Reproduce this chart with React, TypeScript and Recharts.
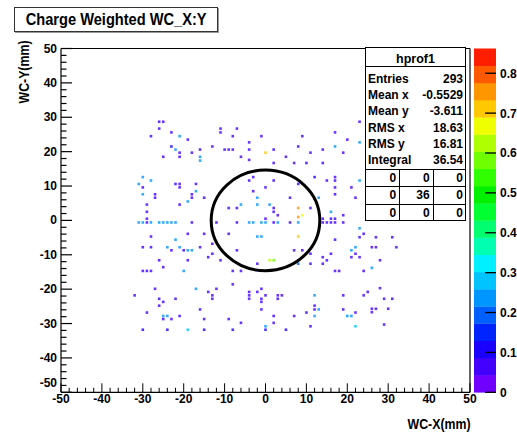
import React from 'react';
import { ScatterChart, Scatter, XAxis, YAxis, ReferenceDot } from 'recharts';

// hits: [x (mm), y (mm), charge weight]
const hits: [number, number, number][] = [
  [-26, 28.7, 0.06], [-25, 28.7, 0.06], [-26, 26.7, 0.06], [-28, 24.5, 0.06], [-23, 25.6, 0.06],
  [-21, 24.5, 0.23], [-19, 23.5, 0.06], [-23, 21.5, 0.12], [-22, 20.6, 0.23], [-21, 19.7, 0.06],
  [-21, 18.5, 0.06], [-25, 18.5, 0.06], [-18, 19.7, 0.06], [-16, 20.6, 0.06], [-16, 18.5, 0.23],
  [-16, 17.4, 0.23], [-13, 21.5, 0.06], [-11, 26.7, 0.06], [-11, 25.6, 0.06], [-7, 26.7, 0.06],
  [-8, 24.5, 0.06], [-10, 20.6, 0.06], [-9, 20.6, 0.06], [-8, 20.6, 0.06], [-6, 18.5, 0.06],
  [-4, 22.7, 0.06], [-4, 20.6, 0.06], [-4, 17.6, 0.06], [-1, 24.5, 0.06], [0, 19.7, 0.72],
  [2, 20.6, 0.06], [2, 16.7, 0.06], [5, 18.5, 0.06], [7, 16.7, 0.06], [10, 16.7, 0.06],
  [8, 21.5, 0.06], [9, 24.5, 0.06], [11, 19.7, 0.06], [14, 20.6, 0.06], [14, 16.7, 0.06],
  [17, 25.6, 0.06], [17, 21.5, 0.23], [19, 19.7, 0.06], [20, 23.5, 0.06], [23, 28.7, 0.06],
  [23, 22.7, 0.23],
  [-30, 12.6, 0.23], [-31, 10.6, 0.23], [-30, 9.6, 0.06], [-30, 7.6, 0.23], [-28, 11.6, 0.23],
  [-29, 4.6, 0.06], [-29, 2.5, 0.06], [-29, 0.5, 0.06], [-27, 7.6, 0.06], [-27, 6.6, 0.06],
  [-22, 10.6, 0.06], [-21, 10.6, 0.06], [-21, 9.6, 0.06], [-21, 4.6, 0.06], [-19, 5.5, 0.23],
  [-18, 7.6, 0.06], [-18, 6.6, 0.06], [-17, 10.6, 0.06], [-17, 8.5, 0.23], [-15, 6.6, 0.06],
  [-4, 11.6, 0.06], [-3, 12.6, 0.06], [-3, 8.5, 0.06], [0, 9.6, 0.06], [2, 11.6, 0.06],
  [-2, 6.6, 0.23], [-2, 4.6, 0.23], [1, 4.6, 0.23], [2, 3.6, 0.06], [2, 2.5, 0.06],
  [6, 6.6, 0.06], [8, 10.6, 0.06], [8, 3.6, 0.76], [9, 1.5, 0.66], [13, 6.6, 0.23],
  [11, 3.6, 0.06], [12, 12.6, 0.12], [15, 11.6, 0.06], [17, 12.6, 0.06], [17, 11.6, 0.06],
  [17, 7.6, 0.06], [17, 9.6, 0.06], [16, 2.5, 0.23], [19, 1.5, 0.06], [21, 9.6, 0.06],
  [22, 6.6, 0.06], [23, 11.6, 0.23], [-9, 3.6, 0.06], [-7, 3.6, 0.06], [-6, 4.6, 0.23],
  [8, 1.0, 0.74], [0, 0.5, 0.06], [3, 1.5, 0.06], [14, 0.5, 0.06], [16, 0.5, 0.06], [17, 0.5, 0.06],
  [-31, -0.6, 0.23], [-30, -0.6, 0.23], [-29, -0.6, 0.06], [-28, -0.6, 0.23], [-26, -0.6, 0.23],
  [-25, -0.6, 0.23], [-24, -0.6, 0.23], [-23, -0.6, 0.23], [-22, -0.6, 0.23], [-18, -0.6, 0.06],
  [-12, -0.6, 0.06], [-7, -0.6, 0.06], [-4, -0.6, 0.23], [-3, -0.6, 0.23], [-1, -0.6, 0.23],
  [0, -0.6, 0.23], [2, -0.6, 0.06], [3, -0.6, 0.23], [6, -0.6, 0.06], [8, -0.6, 0.23],
  [14, -0.6, 0.06], [15, -0.6, 0.06], [16, -0.6, 0.06], [17, -0.6, 0.06], [19, -0.6, 0.06],
  [23, -2.3, 0.23],
  [-28, -4.7, 0.06], [-19, -3.9, 0.06], [-15, -3.9, 0.06], [-9, -3.9, 0.06], [-2, -4.7, 0.23],
  [-1, -4.7, 0.23], [8, -4.7, 0.72], [17, -5.6, 0.06], [-22, -5.6, 0.23], [-13, -6.8, 0.06],
  [-30, -7.8, 0.06], [-28, -7.8, 0.06], [-24, -7.8, 0.23], [-23, -8.7, 0.06], [-21, -7.8, 0.23],
  [-20, -8.7, 0.06], [-19, -8.7, 0.23], [-18, -8.7, 0.23], [-16, -7.8, 0.06], [-7, -8.7, 0.06],
  [-14, -10.7, 0.06], [-13, -9.7, 0.06], [-11, -11.6, 0.06], [1, -11.6, 0.62], [2, -11.6, 0.6],
  [7, -8.7, 0.06], [9, -8.7, 0.06], [11, -9.7, 0.06], [14, -10.7, 0.06], [15, -11.6, 0.06],
  [16, -9.7, 0.06], [21, -8.7, 0.23], [22, -7.8, 0.23], [21, -10.7, 0.06], [22, -9.7, 0.06],
  [-26, -11.6, 0.06], [-19, -11.6, 0.06], [-2, -12.6, 0.06], [8, -12.6, 0.2], [11, -12.6, 0.06],
  [14, -12.6, 0.06], [-30, -14.7, 0.06], [-29, -14.7, 0.06], [-28, -14.7, 0.06], [-25, -13.6, 0.06],
  [-20, -14.7, 0.23], [-8, -14.7, 0.06], [-6, -14.7, 0.06], [-8, -18.6, 0.06], [17, -14.7, 0.06],
  [18, -14.7, 0.06], [23, -4.9, 0.06], [27, -4.9, 0.06], [31, -4.9, 0.06], [24, -3.9, 0.06],
  [26, -7.8, 0.06], [27, -7.8, 0.06], [32, -7.8, 0.06], [23, -10.7, 0.06], [28, -11.6, 0.06],
  [26, -13.8, 0.23], [24, -14.7, 0.06],
  [-27, -19.9, 0.06], [-32, -21.8, 0.06], [-26, -22.8, 0.06], [-25, -23.7, 0.06], [-26, -24.8, 0.06],
  [-22, -22.8, 0.06], [-17, -19.9, 0.23], [-14, -20.8, 0.06], [-13, -21.8, 0.06], [-13, -22.8, 0.06],
  [-12, -19.9, 0.06], [-4, -20.8, 0.06], [-4, -21.8, 0.06], [-4, -22.8, 0.06], [-2, -20.8, 0.06],
  [-1, -19.9, 0.06], [-1, -22.8, 0.06], [-1, -23.7, 0.06], [0, -21.8, 0.06], [3, -21.8, 0.06],
  [4, -21.8, 0.06], [3, -22.8, 0.06], [12, -21.8, 0.23], [19, -21.8, 0.06], [-16, -25.9, 0.06],
  [-1, -25.9, 0.06], [12, -24.8, 0.06], [12, -25.9, 0.06], [13, -25.9, 0.23], [10, -26.8, 0.06],
  [19, -25.9, 0.06], [22, -26.8, 0.06], [-29, -26.8, 0.06], [-25, -27.8, 0.23], [-24, -27.8, 0.23],
  [-25, -28.7, 0.06], [-23, -28.7, 0.06], [-21, -27.8, 0.06], [-15, -28.7, 0.06], [-9, -28.7, 0.06],
  [-6, -29.8, 0.06], [2, -27.8, 0.06], [2, -29.8, 0.06], [7, -27.8, 0.06], [12, -27.8, 0.23],
  [11, -30.8, 0.06], [20, -27.8, 0.23], [21, -27.8, 0.23], [22, -30.8, 0.3], [-30, -31.8, 0.12],
  [-24, -31.8, 0.12], [-19, -31.8, 0.3], [-15, -31.8, 0.12], [-8, -31.8, 0.12], [0, -30.8, 0.23],
  [0, -31.8, 0.12], [5, -31.8, 0.12], [25, -20.8, 0.06], [24, -21.8, 0.06], [28, -19.7, 0.06],
  [29, -22.8, 0.06], [31, -22.8, 0.06], [26, -25.7, 0.06], [26, -26.7, 0.06], [27, -25.7, 0.06],
  [30, -25.7, 0.06], [29, -30.3, 0.06],
];

const majorTicks = [-50, -40, -30, -20, -10, 0, 10, 20, 30, 40, 50];
const zLabels = [0, 0.1, 0.2, 0.3, 0.4, 0.5, 0.6, 0.7, 0.8];
const zMax = 0.862;
const bandColors = [
  '#7000ff', '#4400ff', '#1a00ff', '#0024ff', '#0060ff', '#0096ff', '#00c4ff', '#00f0ff', '#00ffb0', '#00ff70',
  '#00ff30', '#00f000', '#30ff00', '#70ff00', '#b0ff00', '#f0ff00', '#ffc800', '#ff9600', '#ff5a00', '#ff1e00',
];
const statRows = [
  ['Entries', '293'],
  ['Mean x', '-0.5529'],
  ['Mean y', '-3.611'],
  ['RMS x', '18.63'],
  ['RMS y', '16.81'],
  ['Integral', '36.54'],
];
const overflowGrid = [
  [0, 0, 0],
  [0, 36, 0],
  [0, 0, 0],
];

// minor ticks every 2 mm, labels only on the majors
const frameTicks: number[] = [];
for (let v = -50; v <= 50; v += 2) frameTicks.push(v);

const data = hits.map(([x, y, w]) => ({ x, y, w }));

const FONT = '"Liberation Sans", Arial, Helvetica, sans-serif';
const PLOT = { left: 61, right: 470, top: 48.5, bottom: 392.3 };

const colorFor = (w: number) => bandColors[Math.min(bandColors.length - 1, Math.floor((w / zMax) * bandColors.length))];

const isMajor = (v: number) => majorTicks.includes(v);

const BottomTick = (props: any) => {
  const { x, y, payload } = props;
  const v = payload.value;
  const len = isMajor(v) ? 9 : 4.5;
  return (
    <g>
      <line x1={x} y1={y} x2={x} y2={y - len} stroke="#000" strokeWidth={1} />
      {isMajor(v) && (
        <text x={x} y={y + 11} textAnchor="middle" fontFamily={FONT} fontWeight="bold" fontSize={12} fill="#000">
          {v}
        </text>
      )}
    </g>
  );
};

const TopTick = (props: any) => {
  const { x, y, payload } = props;
  const len = isMajor(payload.value) ? 9 : 4.5;
  return <line x1={x} y1={y} x2={x} y2={y + len} stroke="#000" strokeWidth={1} />;
};

const LeftTick = (props: any) => {
  const { x, y, payload } = props;
  const v = payload.value;
  const len = isMajor(v) ? 11 : 5.5;
  // ROOT nudges the lowest label up so it clears the x-axis labels
  const dy = v === -50 ? -5 : 4;
  return (
    <g>
      <line x1={x} y1={y} x2={x + len} y2={y} stroke="#000" strokeWidth={1.2} />
      {isMajor(v) && (
        <text x={x - 4} y={y + dy} textAnchor="end" fontFamily={FONT} fontWeight="bold" fontSize={12} fill="#000">
          {v}
        </text>
      )}
    </g>
  );
};

const RightTick = (props: any) => {
  const { x, y, payload } = props;
  const len = isMajor(payload.value) ? 11 : 5.5;
  return <line x1={x} y1={y} x2={x - len} y2={y} stroke="#000" strokeWidth={1.2} />;
};

const HitCell = (props: any) => {
  const { cx, cy, payload } = props;
  return <rect x={cx - 1.3} y={cy - 1.3} width={2.6} height={2.6} fill={colorFor(payload.w)} fillOpacity={0.8} />;
};

const Ring = (props: any) => {
  const { cx, cy } = props;
  return <ellipse cx={cx} cy={cy} rx={54.3} ry={50.3} fill="none" stroke="#000" strokeWidth={3} />;
};

const ColorBar: React.FC = () => {
  const h = PLOT.bottom - PLOT.top;
  const bandH = h / bandColors.length;
  const zy = (v: number) => PLOT.bottom - (v / zMax) * h;
  return (
    <svg width={517} height={436} style={{ position: 'absolute', left: 0, top: 0 }}>
      {bandColors.map((c, i) => (
        <rect key={c} x={474} y={PLOT.bottom - (i + 1) * bandH} width={22} height={bandH + 0.3} fill={c} />
      ))}
      {zLabels.map((v) => (
        <g key={v}>
          <line x1={485} x2={496} y1={zy(v)} y2={zy(v)} stroke="#000" strokeWidth={1.3} />
          <text x={500} y={zy(v) + 4.5} fontFamily={FONT} fontWeight="bold" fontSize={12} fill="#000">
            {v}
          </text>
        </g>
      ))}
    </svg>
  );
};

const StatsBox: React.FC = () => {
  const width = 101;
  const cell = { position: 'absolute' as const, fontFamily: FONT, fontWeight: 'bold' as const, fontSize: 12, color: '#000', lineHeight: '14px' };
  return (
    <div style={{ position: 'absolute', left: 365, top: 47, width, height: 174, background: '#fff', border: '1px solid #000', boxSizing: 'border-box' }}>
      <div style={{ ...cell, left: 0, width: width - 2, top: 4, textAlign: 'center', fontSize: 12.5 }}>hprof1</div>
      <div style={{ position: 'absolute', left: 0, right: 0, top: 18, borderTop: '1px solid #000' }} />
      {statRows.map(([k, v], i) => (
        <React.Fragment key={k}>
          <div style={{ ...cell, left: 2, top: 31 + i * 16.2 - 7 }}>{k}</div>
          <div style={{ ...cell, right: 2, top: 31 + i * 16.2 - 7 }}>{v}</div>
        </React.Fragment>
      ))}
      {overflowGrid.map((row, r) =>
        row.map((v, c) => (
          <div
            key={`${r}-${c}`}
            style={{
              ...cell,
              left: c * 33.3,
              width: 33.3,
              top: 121 + r * 17.3,
              height: 17.3,
              boxSizing: 'border-box',
              borderTop: '1.5px solid #000',
              borderLeft: c > 0 ? '1.5px solid #000' : 'none',
              textAlign: 'right',
              paddingRight: 3,
              lineHeight: '16px',
            }}
          >
            {v}
          </div>
        ))
      )}
    </div>
  );
};

const App: React.FC = () => {
  return (
    <div style={{ position: 'absolute', left: 0, top: 0, width: 517, height: 436, background: '#fff', overflow: 'hidden' }}>
      <ScatterChart
        width={517}
        height={436}
        margin={{ top: PLOT.top - 1, right: 517 - PLOT.right - 1, bottom: 436 - PLOT.bottom - 1, left: PLOT.left - 1 }}
      >
        <XAxis xAxisId="b" type="number" dataKey="x" domain={[-50, 50]} ticks={frameTicks} interval={0} height={1}
          tickSize={0} tickMargin={0} tick={<BottomTick />} axisLine={{ stroke: '#000', strokeWidth: 1.2 }} />
        <XAxis xAxisId="t" orientation="top" type="number" domain={[-50, 50]} ticks={frameTicks} interval={0} height={1}
          tickSize={0} tickMargin={0} tick={<TopTick />} axisLine={{ stroke: '#000', strokeWidth: 1.2 }} />
        <YAxis yAxisId="l" type="number" dataKey="y" domain={[-50, 50]} ticks={frameTicks} interval={0} width={1}
          tickSize={0} tickMargin={0} tick={<LeftTick />} axisLine={{ stroke: '#000', strokeWidth: 1.2 }} />
        <YAxis yAxisId="r" orientation="right" type="number" domain={[-50, 50]} ticks={frameTicks} interval={0} width={1}
          tickSize={0} tickMargin={0} tick={<RightTick />} axisLine={{ stroke: '#000', strokeWidth: 1.2 }} />
        <Scatter data={data} xAxisId="b" yAxisId="l" shape={<HitCell />} isAnimationActive={false} />
        <ReferenceDot x={0} y={0} xAxisId="b" yAxisId="l" r={50} shape={<Ring />} />
      </ScatterChart>

      <ColorBar />
      <StatsBox />

      <div style={{ position: 'absolute', left: 14, top: 7, width: 202, height: 23, border: '1.5px solid #333', background: '#fff',
        boxShadow: '1px 1px 0 #999', display: 'flex', alignItems: 'center', justifyContent: 'center' }}>
        <span style={{ fontFamily: FONT, fontWeight: 'bold', fontSize: 17, display: 'inline-block', transform: 'scaleX(0.86)', whiteSpace: 'nowrap' }}>
          Charge Weighted WC_X:Y
        </span>
      </div>
      <div style={{ position: 'absolute', right: 517 - 471, top: 416, fontFamily: FONT, fontWeight: 'bold', fontSize: 14,
        transform: 'scaleX(0.88)', transformOrigin: 'right center', whiteSpace: 'nowrap' }}>
        WC-X(mm)
      </div>
      <div style={{ position: 'absolute', left: 24, top: 72, fontFamily: FONT, fontWeight: 'bold', fontSize: 14, whiteSpace: 'nowrap',
        transform: 'translate(-50%, -50%) rotate(-90deg) scaleX(0.88)' }}>
        WC-Y(mm)
      </div>
    </div>
  );
};

export default App;
